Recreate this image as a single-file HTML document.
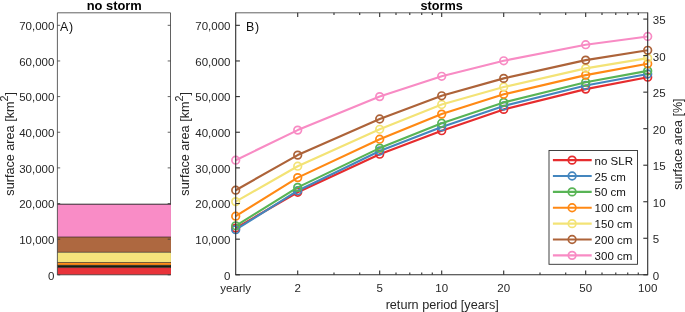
<!DOCTYPE html>
<html><head><meta charset="utf-8"><title>storms</title>
<style>html,body{margin:0;padding:0;background:#fff}svg{display:block}svg text{font-family:"Liberation Sans",Arial,sans-serif}</style></head>
<body>
<svg width="685" height="312" viewBox="0 0 685 312"  font-size="11.5" fill="#262626">
<rect width="685" height="312" fill="#fff"/>
<path d="M170.5 12.8V274.8" stroke="#3a3a3a" stroke-width="0.8"/>
<rect x="57.4" y="204.2" width="113.55" height="32.80" fill="#f98cc6"/>
<rect x="57.4" y="237.0" width="113.55" height="15.30" fill="#ae6840"/>
<rect x="57.4" y="252.3" width="113.55" height="10.20" fill="#f5e47c"/>
<rect x="57.4" y="262.5" width="113.55" height="2.80" fill="#ff8c1a"/>
<rect x="57.4" y="265.3" width="113.55" height="2.25" fill="#15200f"/>
<rect x="57.4" y="267.55" width="113.55" height="7.25" fill="#e8333a"/>
<path d="M57.4 204.2H170.9" stroke="#1a1a1a" stroke-width="0.9"/>
<path d="M57.4 237.0H170.9" stroke="#1a1a1a" stroke-width="0.6"/>
<path d="M57.4 252.3H170.9" stroke="#1a1a1a" stroke-width="0.6"/>
<path d="M57.4 262.5H170.9" stroke="#1a1a1a" stroke-width="0.6"/>
<path d="M57.4 265.3H170.9" stroke="#1a1a1a" stroke-width="0.6"/>
<path d="M57.4 267.55H170.9" stroke="#1a1a1a" stroke-width="0.6"/>
<path d="M170.5 12.8H57.4V274.8H170.9" fill="none" stroke="#3a3a3a" stroke-width="0.8"/>
<path d="M57.4 274.80h2.8M170.5 274.80h-2.8" stroke="#3a3a3a" stroke-width="0.8"/>
<text x="54.40" y="279.55" text-anchor="end">0</text>
<text x="230.50" y="279.55" text-anchor="end">0</text>
<path d="M57.4 239.16h2.8M170.5 239.16h-2.8" stroke="#3a3a3a" stroke-width="0.8"/>
<text x="54.40" y="243.91" text-anchor="end">10,000</text>
<text x="230.50" y="243.91" text-anchor="end">10,000</text>
<path d="M57.4 203.52h2.8M170.5 203.52h-2.8" stroke="#3a3a3a" stroke-width="0.8"/>
<text x="54.40" y="208.27" text-anchor="end">20,000</text>
<text x="230.50" y="208.27" text-anchor="end">20,000</text>
<path d="M57.4 167.88h2.8M170.5 167.88h-2.8" stroke="#3a3a3a" stroke-width="0.8"/>
<text x="54.40" y="172.63" text-anchor="end">30,000</text>
<text x="230.50" y="172.63" text-anchor="end">30,000</text>
<path d="M57.4 132.24h2.8M170.5 132.24h-2.8" stroke="#3a3a3a" stroke-width="0.8"/>
<text x="54.40" y="136.99" text-anchor="end">40,000</text>
<text x="230.50" y="136.99" text-anchor="end">40,000</text>
<path d="M57.4 96.60h2.8M170.5 96.60h-2.8" stroke="#3a3a3a" stroke-width="0.8"/>
<text x="54.40" y="101.35" text-anchor="end">50,000</text>
<text x="230.50" y="101.35" text-anchor="end">50,000</text>
<path d="M57.4 60.96h2.8M170.5 60.96h-2.8" stroke="#3a3a3a" stroke-width="0.8"/>
<text x="54.40" y="65.71" text-anchor="end">60,000</text>
<text x="230.50" y="65.71" text-anchor="end">60,000</text>
<path d="M57.4 25.32h2.8M170.5 25.32h-2.8" stroke="#3a3a3a" stroke-width="0.8"/>
<text x="54.40" y="30.07" text-anchor="end">70,000</text>
<text x="230.50" y="30.07" text-anchor="end">70,000</text>
<text x="114.25" y="9.6" text-anchor="middle" font-weight="bold" font-size="12.9" fill="#000">no storm</text>
<text x="441.70" y="9.6" text-anchor="middle" font-weight="bold" font-size="12.7" fill="#000">storms</text>
<text x="60.00" y="31.2" font-size="12.4" letter-spacing="0.8" fill="#111">A)</text>
<text x="245.90" y="31.2" font-size="12.4" letter-spacing="0.8" fill="#111">B)</text>
<text transform="translate(14.45 143.80) rotate(-90)" text-anchor="middle" font-size="12.65">surface area [km<tspan font-size="10.8" dy="-6">2</tspan><tspan dy="6">]</tspan></text>
<text transform="translate(189.0 143.80) rotate(-90)" text-anchor="middle" font-size="12.65">surface area [km<tspan font-size="10.8" dy="-6">2</tspan><tspan dy="6">]</tspan></text>
<text transform="translate(681.9 144.15) rotate(-90)" text-anchor="middle" font-size="12.55">surface area [%]</text>
<polyline points="235.70,228.10 297.71,192.30 379.69,154.20 441.70,130.70 503.71,109.40 585.69,89.10 647.70,77.20" fill="none" stroke="#e62c2e" stroke-width="2.15" stroke-linejoin="round"/>
<circle cx="235.70" cy="228.10" r="3.8" fill="none" stroke="#e62c2e" stroke-width="1.7"/>
<circle cx="297.71" cy="192.30" r="3.8" fill="none" stroke="#e62c2e" stroke-width="1.7"/>
<circle cx="379.69" cy="154.20" r="3.8" fill="none" stroke="#e62c2e" stroke-width="1.7"/>
<circle cx="441.70" cy="130.70" r="3.8" fill="none" stroke="#e62c2e" stroke-width="1.7"/>
<circle cx="503.71" cy="109.40" r="3.8" fill="none" stroke="#e62c2e" stroke-width="1.7"/>
<circle cx="585.69" cy="89.10" r="3.8" fill="none" stroke="#e62c2e" stroke-width="1.7"/>
<circle cx="647.70" cy="77.20" r="3.8" fill="none" stroke="#e62c2e" stroke-width="1.7"/>
<polyline points="235.70,229.70 297.71,190.70 379.69,151.00 441.70,126.90 503.71,106.00 585.69,85.50 647.70,74.00" fill="none" stroke="#4486be" stroke-width="2.15" stroke-linejoin="round"/>
<circle cx="235.70" cy="229.70" r="3.8" fill="none" stroke="#4486be" stroke-width="1.7"/>
<circle cx="297.71" cy="190.70" r="3.8" fill="none" stroke="#4486be" stroke-width="1.7"/>
<circle cx="379.69" cy="151.00" r="3.8" fill="none" stroke="#4486be" stroke-width="1.7"/>
<circle cx="441.70" cy="126.90" r="3.8" fill="none" stroke="#4486be" stroke-width="1.7"/>
<circle cx="503.71" cy="106.00" r="3.8" fill="none" stroke="#4486be" stroke-width="1.7"/>
<circle cx="585.69" cy="85.50" r="3.8" fill="none" stroke="#4486be" stroke-width="1.7"/>
<circle cx="647.70" cy="74.00" r="3.8" fill="none" stroke="#4486be" stroke-width="1.7"/>
<polyline points="235.70,225.80 297.71,187.40 379.69,148.10 441.70,123.20 503.71,102.40 585.69,82.20 647.70,70.90" fill="none" stroke="#58b455" stroke-width="2.15" stroke-linejoin="round"/>
<circle cx="235.70" cy="225.80" r="3.8" fill="none" stroke="#58b455" stroke-width="1.7"/>
<circle cx="297.71" cy="187.40" r="3.8" fill="none" stroke="#58b455" stroke-width="1.7"/>
<circle cx="379.69" cy="148.10" r="3.8" fill="none" stroke="#58b455" stroke-width="1.7"/>
<circle cx="441.70" cy="123.20" r="3.8" fill="none" stroke="#58b455" stroke-width="1.7"/>
<circle cx="503.71" cy="102.40" r="3.8" fill="none" stroke="#58b455" stroke-width="1.7"/>
<circle cx="585.69" cy="82.20" r="3.8" fill="none" stroke="#58b455" stroke-width="1.7"/>
<circle cx="647.70" cy="70.90" r="3.8" fill="none" stroke="#58b455" stroke-width="1.7"/>
<polyline points="235.70,216.20 297.71,177.60 379.69,139.20 441.70,114.10 503.71,94.30 585.69,75.10 647.70,63.80" fill="none" stroke="#ff8914" stroke-width="2.15" stroke-linejoin="round"/>
<circle cx="235.70" cy="216.20" r="3.8" fill="none" stroke="#ff8914" stroke-width="1.7"/>
<circle cx="297.71" cy="177.60" r="3.8" fill="none" stroke="#ff8914" stroke-width="1.7"/>
<circle cx="379.69" cy="139.20" r="3.8" fill="none" stroke="#ff8914" stroke-width="1.7"/>
<circle cx="441.70" cy="114.10" r="3.8" fill="none" stroke="#ff8914" stroke-width="1.7"/>
<circle cx="503.71" cy="94.30" r="3.8" fill="none" stroke="#ff8914" stroke-width="1.7"/>
<circle cx="585.69" cy="75.10" r="3.8" fill="none" stroke="#ff8914" stroke-width="1.7"/>
<circle cx="647.70" cy="63.80" r="3.8" fill="none" stroke="#ff8914" stroke-width="1.7"/>
<polyline points="235.70,201.60 297.71,166.20 379.69,129.30 441.70,104.50 503.71,87.00 585.69,68.40 647.70,58.10" fill="none" stroke="#f3e376" stroke-width="2.15" stroke-linejoin="round"/>
<circle cx="235.70" cy="201.60" r="3.8" fill="none" stroke="#f3e376" stroke-width="1.7"/>
<circle cx="297.71" cy="166.20" r="3.8" fill="none" stroke="#f3e376" stroke-width="1.7"/>
<circle cx="379.69" cy="129.30" r="3.8" fill="none" stroke="#f3e376" stroke-width="1.7"/>
<circle cx="441.70" cy="104.50" r="3.8" fill="none" stroke="#f3e376" stroke-width="1.7"/>
<circle cx="503.71" cy="87.00" r="3.8" fill="none" stroke="#f3e376" stroke-width="1.7"/>
<circle cx="585.69" cy="68.40" r="3.8" fill="none" stroke="#f3e376" stroke-width="1.7"/>
<circle cx="647.70" cy="58.10" r="3.8" fill="none" stroke="#f3e376" stroke-width="1.7"/>
<polyline points="235.70,190.20 297.71,155.10 379.69,119.00 441.70,95.80 503.71,78.40 585.69,60.10 647.70,50.30" fill="none" stroke="#ad6339" stroke-width="2.15" stroke-linejoin="round"/>
<circle cx="235.70" cy="190.20" r="3.8" fill="none" stroke="#ad6339" stroke-width="1.7"/>
<circle cx="297.71" cy="155.10" r="3.8" fill="none" stroke="#ad6339" stroke-width="1.7"/>
<circle cx="379.69" cy="119.00" r="3.8" fill="none" stroke="#ad6339" stroke-width="1.7"/>
<circle cx="441.70" cy="95.80" r="3.8" fill="none" stroke="#ad6339" stroke-width="1.7"/>
<circle cx="503.71" cy="78.40" r="3.8" fill="none" stroke="#ad6339" stroke-width="1.7"/>
<circle cx="585.69" cy="60.10" r="3.8" fill="none" stroke="#ad6339" stroke-width="1.7"/>
<circle cx="647.70" cy="50.30" r="3.8" fill="none" stroke="#ad6339" stroke-width="1.7"/>
<polyline points="235.70,160.20 297.71,130.10 379.69,96.60 441.70,76.30 503.71,60.80 585.69,44.70 647.70,36.50" fill="none" stroke="#f88bc4" stroke-width="2.15" stroke-linejoin="round"/>
<circle cx="235.70" cy="160.20" r="3.8" fill="none" stroke="#f88bc4" stroke-width="1.7"/>
<circle cx="297.71" cy="130.10" r="3.8" fill="none" stroke="#f88bc4" stroke-width="1.7"/>
<circle cx="379.69" cy="96.60" r="3.8" fill="none" stroke="#f88bc4" stroke-width="1.7"/>
<circle cx="441.70" cy="76.30" r="3.8" fill="none" stroke="#f88bc4" stroke-width="1.7"/>
<circle cx="503.71" cy="60.80" r="3.8" fill="none" stroke="#f88bc4" stroke-width="1.7"/>
<circle cx="585.69" cy="44.70" r="3.8" fill="none" stroke="#f88bc4" stroke-width="1.7"/>
<circle cx="647.70" cy="36.50" r="3.8" fill="none" stroke="#f88bc4" stroke-width="1.7"/>
<path d="M235.7 12.8H647.7" fill="none" stroke="#3a3a3a" stroke-width="0.8"/>
<path d="M235.7 12.4V274.8H647.7V12.4" fill="none" stroke="#2e2e2e" stroke-width="1.1"/>
<path d="M235.7 274.80h4.2" stroke="#2e2e2e" stroke-width="1.1"/>
<path d="M235.7 239.16h4.2" stroke="#2e2e2e" stroke-width="1.1"/>
<path d="M235.7 203.52h4.2" stroke="#2e2e2e" stroke-width="1.1"/>
<path d="M235.7 167.88h4.2" stroke="#2e2e2e" stroke-width="1.1"/>
<path d="M235.7 132.24h4.2" stroke="#2e2e2e" stroke-width="1.1"/>
<path d="M235.7 96.60h4.2" stroke="#2e2e2e" stroke-width="1.1"/>
<path d="M235.7 60.96h4.2" stroke="#2e2e2e" stroke-width="1.1"/>
<path d="M235.7 25.32h4.2" stroke="#2e2e2e" stroke-width="1.1"/>
<path d="M297.71 274.8v-4.2M297.71 12.8v4.2" stroke="#2e2e2e" stroke-width="1.1"/>
<path d="M333.99 274.8v-2.2M333.99 12.8v2.2" stroke="#2e2e2e" stroke-width="1.1"/>
<path d="M359.72 274.8v-2.2M359.72 12.8v2.2" stroke="#2e2e2e" stroke-width="1.1"/>
<path d="M379.69 274.8v-4.2M379.69 12.8v4.2" stroke="#2e2e2e" stroke-width="1.1"/>
<path d="M396.00 274.8v-2.2M396.00 12.8v2.2" stroke="#2e2e2e" stroke-width="1.1"/>
<path d="M409.79 274.8v-2.2M409.79 12.8v2.2" stroke="#2e2e2e" stroke-width="1.1"/>
<path d="M421.74 274.8v-2.2M421.74 12.8v2.2" stroke="#2e2e2e" stroke-width="1.1"/>
<path d="M432.27 274.8v-2.2M432.27 12.8v2.2" stroke="#2e2e2e" stroke-width="1.1"/>
<path d="M441.70 274.8v-4.2M441.70 12.8v4.2" stroke="#2e2e2e" stroke-width="1.1"/>
<path d="M503.71 274.8v-4.2M503.71 12.8v4.2" stroke="#2e2e2e" stroke-width="1.1"/>
<path d="M539.99 274.8v-2.2M539.99 12.8v2.2" stroke="#2e2e2e" stroke-width="1.1"/>
<path d="M565.72 274.8v-2.2M565.72 12.8v2.2" stroke="#2e2e2e" stroke-width="1.1"/>
<path d="M585.69 274.8v-4.2M585.69 12.8v4.2" stroke="#2e2e2e" stroke-width="1.1"/>
<path d="M602.00 274.8v-2.2M602.00 12.8v2.2" stroke="#2e2e2e" stroke-width="1.1"/>
<path d="M615.79 274.8v-2.2M615.79 12.8v2.2" stroke="#2e2e2e" stroke-width="1.1"/>
<path d="M627.74 274.8v-2.2M627.74 12.8v2.2" stroke="#2e2e2e" stroke-width="1.1"/>
<path d="M638.27 274.8v-2.2M638.27 12.8v2.2" stroke="#2e2e2e" stroke-width="1.1"/>
<text x="235.70" y="291.6" text-anchor="middle">yearly</text>
<text x="297.71" y="291.6" text-anchor="middle">2</text>
<text x="379.69" y="291.6" text-anchor="middle">5</text>
<text x="441.70" y="291.6" text-anchor="middle">10</text>
<text x="503.71" y="291.6" text-anchor="middle">20</text>
<text x="585.69" y="291.6" text-anchor="middle">50</text>
<text x="647.70" y="291.6" text-anchor="middle">100</text>
<text x="442.20" y="308.7" text-anchor="middle" font-size="12.65">return period [years]</text>
<path d="M647.7 274.80h-4.4" stroke="#2e2e2e" stroke-width="1.1"/>
<text x="652.8" y="279.70">0</text>
<path d="M647.7 238.27h-4.4" stroke="#2e2e2e" stroke-width="1.1"/>
<text x="652.8" y="243.17">5</text>
<path d="M647.7 201.74h-4.4" stroke="#2e2e2e" stroke-width="1.1"/>
<text x="652.8" y="206.64">10</text>
<path d="M647.7 165.21h-4.4" stroke="#2e2e2e" stroke-width="1.1"/>
<text x="652.8" y="170.11">15</text>
<path d="M647.7 128.68h-4.4" stroke="#2e2e2e" stroke-width="1.1"/>
<text x="652.8" y="133.58">20</text>
<path d="M647.7 92.15h-4.4" stroke="#2e2e2e" stroke-width="1.1"/>
<text x="652.8" y="97.05">25</text>
<path d="M647.7 55.62h-4.4" stroke="#2e2e2e" stroke-width="1.1"/>
<text x="652.8" y="60.52">30</text>
<path d="M647.7 19.09h-4.4" stroke="#2e2e2e" stroke-width="1.1"/>
<text x="652.8" y="23.99">35</text>
<rect x="549.0" y="150.5" width="88.50" height="113.80" fill="#fff" stroke="#2e2e2e" stroke-width="0.9"/>
<path d="M552.9 160.15H591.7" stroke="#e62c2e" stroke-width="2.15"/>
<circle cx="572.1" cy="160.15" r="3.8" fill="none" stroke="#e62c2e" stroke-width="1.7"/>
<text x="594.6" y="164.65" fill="#111">no SLR</text>
<path d="M552.9 176.02H591.7" stroke="#4486be" stroke-width="2.15"/>
<circle cx="572.1" cy="176.02" r="3.8" fill="none" stroke="#4486be" stroke-width="1.7"/>
<text x="594.6" y="180.52" fill="#111">25 cm</text>
<path d="M552.9 191.89H591.7" stroke="#58b455" stroke-width="2.15"/>
<circle cx="572.1" cy="191.89" r="3.8" fill="none" stroke="#58b455" stroke-width="1.7"/>
<text x="594.6" y="196.39" fill="#111">50 cm</text>
<path d="M552.9 207.76H591.7" stroke="#ff8914" stroke-width="2.15"/>
<circle cx="572.1" cy="207.76" r="3.8" fill="none" stroke="#ff8914" stroke-width="1.7"/>
<text x="594.6" y="212.26" fill="#111">100 cm</text>
<path d="M552.9 223.63H591.7" stroke="#f3e376" stroke-width="2.15"/>
<circle cx="572.1" cy="223.63" r="3.8" fill="none" stroke="#f3e376" stroke-width="1.7"/>
<text x="594.6" y="228.13" fill="#111">150 cm</text>
<path d="M552.9 239.50H591.7" stroke="#ad6339" stroke-width="2.15"/>
<circle cx="572.1" cy="239.50" r="3.8" fill="none" stroke="#ad6339" stroke-width="1.7"/>
<text x="594.6" y="244.00" fill="#111">200 cm</text>
<path d="M552.9 255.37H591.7" stroke="#f88bc4" stroke-width="2.15"/>
<circle cx="572.1" cy="255.37" r="3.8" fill="none" stroke="#f88bc4" stroke-width="1.7"/>
<text x="594.6" y="259.87" fill="#111">300 cm</text>
</svg>
</body></html>
